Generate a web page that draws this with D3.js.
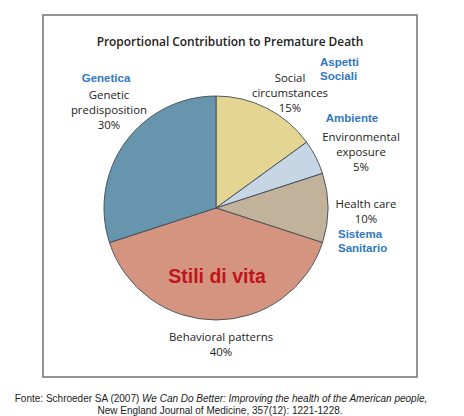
<!DOCTYPE html>
<html><head><meta charset="utf-8">
<script src="https://cdn.jsdelivr.net/npm/d3@7"></script>
<style>body{margin:0;background:#fff}svg{display:block}</style>
</head><body>
<svg id="c" width="464" height="416"></svg>
<script>
const categories = ["Social circumstances","Environmental exposure","Health care","Behavioral patterns","Genetic predisposition"];
const values = [15,5,10,40,30];
const colors = ["#e5d592","#c7d6e4","#c3b29b","#d5947f","#6895ae"];
const labelLines = [["Social","circumstances","15%"],["Environmental","exposure","5%"],["Health care","10%"],["Behavioral patterns","40%"],["Genetic","predisposition","30%"]];
const italianLabels = [["Aspetti","Sociali"],["Ambiente"],["Sistema","Sanitario"],["Stili di vita"],["Genetica"]];

const svg = d3.select("#c");
// frame
svg.append("rect").attr("x",43).attr("y",15).attr("width",374).attr("height",362)
  .attr("fill","none").attr("stroke","#7a7a7a").attr("stroke-width",1.6);

svg.append("text").attr("x",230).attr("y",46).attr("text-anchor","middle")
  .attr("font-family","Open Sans").attr("font-weight",600).attr("font-size",11.9).attr("fill","#222")
  .text("Proportional Contribution to Premature Death");

const cx=216, cy=208, r=112;
const pie = d3.pie().sort(null).value(d=>d)(values);
const arc = d3.arc().innerRadius(0).outerRadius(r);
const g = svg.append("g").attr("transform",`translate(${cx},${cy})`);
g.selectAll("path").data(pie).join("path").attr("d",arc)
  .attr("fill",(d,i)=>colors[i]).attr("stroke","#3d4a55").attr("stroke-width",0.9);

// english labels
const engPos = [[290,82],[361,141],[366,208],[221,341],[109,99]];
labelLines.forEach((lines,i)=>{
  const t = svg.append("text").attr("text-anchor","middle")
    .attr("font-family","Open Sans").attr("font-size",11.4).attr("fill","#222");
  lines.forEach((s,j)=>t.append("tspan").attr("x",engPos[i][0]).attr("y",engPos[i][1]+j*15).text(s));
});

// italian labels
const itPos = [[320,66,"start"],[352,122,"middle"],[338,238,"start"],[217,283,"middle"],[106,82,"middle"]];
italianLabels.forEach((lines,i)=>{
  const big = i===3;
  const t = svg.append("text").attr("text-anchor",itPos[i][2])
    .attr("font-family","Liberation Sans, Arial").attr("font-weight","bold")
    .attr("font-size",big?19.5:11.5).attr("fill",big?"#c0141c":"#2f77c0");
  lines.forEach((s,j)=>t.append("tspan").attr("x",itPos[i][0]).attr("y",itPos[i][1]+j*14).text(s));
});

// footer
const f1 = svg.append("text").attr("x",221).attr("y",402).attr("text-anchor","middle")
  .attr("font-family","Liberation Sans, Arial").attr("font-size",10).attr("fill","#222");
f1.append("tspan").text("Fonte: Schroeder SA (2007) ");
f1.append("tspan").attr("font-style","italic").text("We Can Do Better: Improving the health of the American people,");
svg.append("text").attr("x",220).attr("y",414).attr("text-anchor","middle")
  .attr("font-family","Liberation Sans, Arial").attr("font-size",10).attr("fill","#222")
  .text("New England Journal of Medicine, 357(12): 1221-1228.");
</script>
</body></html>
